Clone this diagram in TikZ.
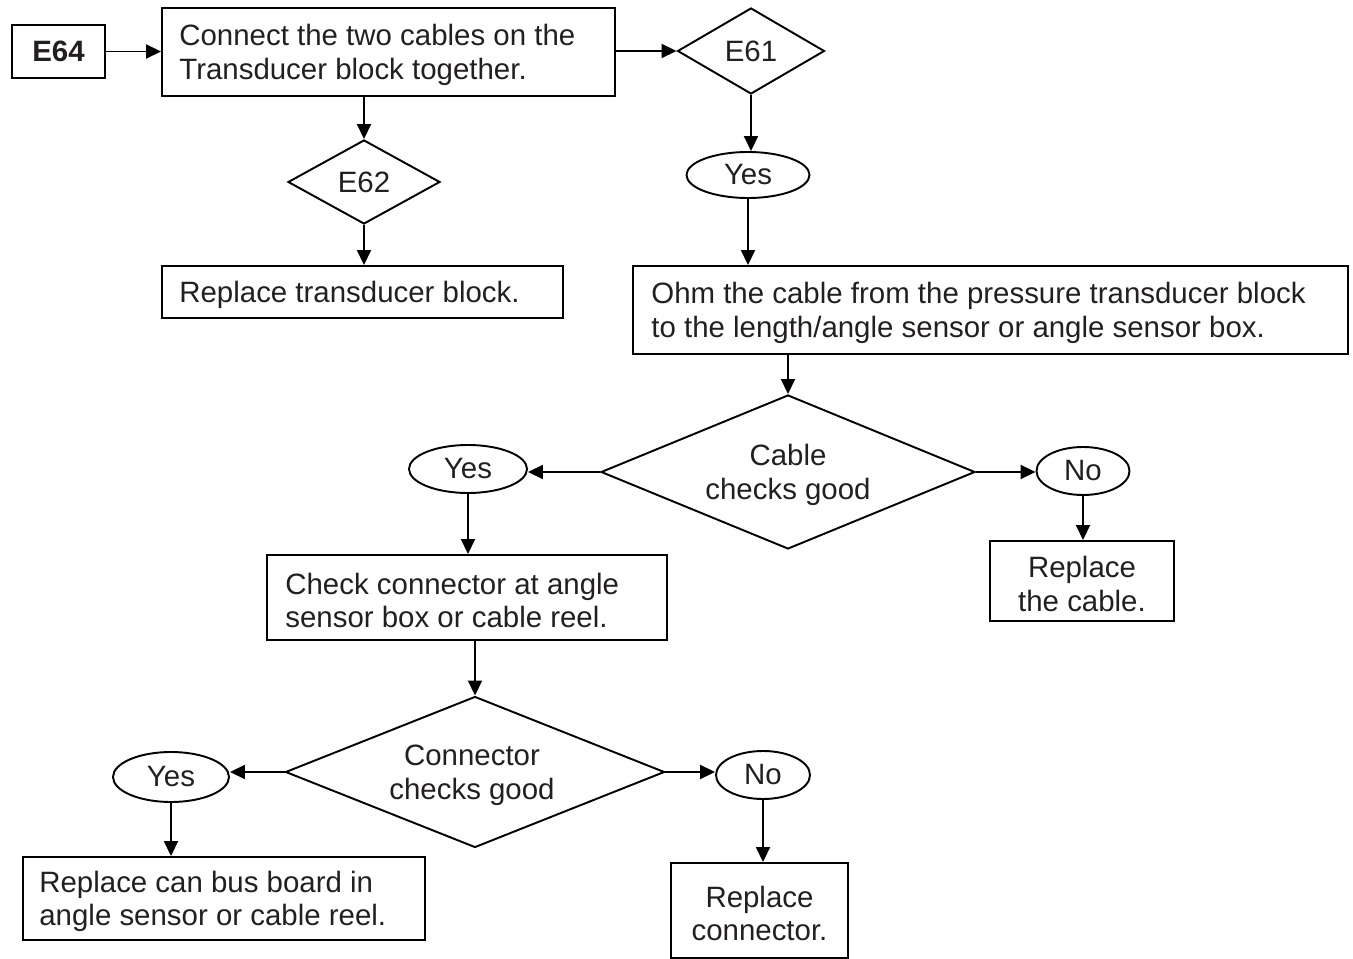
\documentclass[tikz,border=0pt]{standalone}
\usepackage{fontspec}
\setmainfont{Liberation Sans}
\usetikzlibrary{shapes.geometric,arrows.meta}
\definecolor{txt}{HTML}{231F20}
\newcommand\pxu{0.02cm}
\begin{document}
\begin{tikzpicture}[x=0.02cm,y=-0.02cm,
  every node/.style={text=txt,font=\fontsize{16.75}{19.2}\selectfont},
  bx/.style={draw=black,line width=1.1pt,rectangle,inner sep=0pt},
  dia/.style={draw=black,line width=1.1pt,diamond,inner sep=0pt,align=center},
  ell/.style={draw=black,line width=1.1pt,ellipse,inner sep=0pt},
  lt/.style={anchor=west,align=left,inner sep=0pt},
  ct/.style={align=center,inner sep=0pt},
  arr/.style={line width=1.1pt,-{Triangle[length=0.3cm,width=0.28cm]}}]
\useasboundingbox (0,0) rectangle (1353,959);
% boxes
\node[bx,line width=1.7pt,minimum width=93*\pxu,minimum height=53*\pxu,font=\fontsize{16.75}{19.2}\selectfont\bfseries] (e64) at (58.5,51.5) {E64};
\node[bx,minimum width=453*\pxu,minimum height=88*\pxu] (conn) at (388.5,52) {};
\node[lt] (connt) at ([xshift=18*\pxu,yshift=-3*\pxu]conn.west) {Connect the two cables on the\\Transducer block together.};
\node[dia,minimum width=147*\pxu,minimum height=86*\pxu] (e61) at (751,51) {E61};
\node[dia,minimum width=152*\pxu,minimum height=84*\pxu] (e62) at (364,182) {E62};
\node[bx,minimum width=401*\pxu,minimum height=52*\pxu] (rtb) at (362.5,292) {};
\node[lt] (rtbt) at ([xshift=18*\pxu,yshift=-3*\pxu]rtb.west) {Replace transducer block.};
\node[ell,minimum width=123*\pxu,minimum height=46*\pxu] (y1) at (748,175) {Yes};
\node[bx,minimum width=715*\pxu,minimum height=88*\pxu] (ohm) at (990.5,310) {};
\node[lt] (ohmt) at ([xshift=19*\pxu,yshift=-3*\pxu]ohm.west) {Ohm the cable from the pressure transducer block\\to the length/angle sensor or angle sensor box.};
\node[dia,minimum width=374*\pxu,minimum height=154*\pxu] (cab) at (788,472) {};
\node[ct] (cabt) at ([yshift=-3*\pxu]cab.center) {Cable\\checks good};
\node[ell,minimum width=118*\pxu,minimum height=48*\pxu] (y2) at (468,469) {Yes};
\node[ell,minimum width=93*\pxu,minimum height=48*\pxu] (n1) at (1083,471) {No};
\node[bx,minimum width=184*\pxu,minimum height=80*\pxu] (rcable) at (1082,581) {};
\node[ct] (rcablet) at ([yshift=-3*\pxu]rcable.center) {Replace\\the cable.};
\node[bx,minimum width=400*\pxu,minimum height=85*\pxu] (chk) at (467,597.5) {};
\node[lt] (chkt) at ([xshift=19*\pxu,yshift=-3*\pxu]chk.west) {Check connector at angle\\sensor box or cable reel.};
\node[dia,minimum width=379*\pxu,minimum height=151*\pxu] (cong) at (475,772) {};
\node[ct] (congt) at ([yshift=-3*\pxu,xshift=-3*\pxu]cong.center) {Connector\\checks good};
\node[ell,minimum width=116*\pxu,minimum height=50*\pxu] (y3) at (171,777) {Yes};
\node[ell,minimum width=94*\pxu,minimum height=48*\pxu] (n2) at (763,775) {No};
\node[bx,minimum width=402*\pxu,minimum height=83*\pxu] (rcan) at (224,898.5) {};
\node[lt] (rcant) at ([xshift=17*\pxu,yshift=-3*\pxu]rcan.west) {Replace can bus board in\\angle sensor or cable reel.};
\node[bx,minimum width=177*\pxu,minimum height=95*\pxu] (rconn) at (759.5,910.5) {};
\node[ct] (rconnt) at ([yshift=-3*\pxu]rconn.center) {Replace\\connector.};
% connectors
\draw[arr] (e64.east) -- (e64.east -| conn.west);
\draw[arr] (conn.east |- e61.west) -- (e61.west);
\draw[arr] (e62.north |- conn.south) -- (e62.north);
\draw[arr] (e62.south) -- (e62.south |- rtb.north);
\draw[arr] (e61.south) -- (e61.south |- y1.north);
\draw[arr] (y1.south) -- (y1.south |- ohm.north);
\draw[arr] (cab.north |- ohm.south) -- (cab.north);
\draw[arr] (cab.west) -- (cab.west -| y2.east);
\draw[arr] (cab.east) -- (cab.east -| n1.west);
\draw[arr] (n1.south) -- (n1.south |- rcable.north);
\draw[arr] (y2.south) -- (y2.south |- chk.north);
\draw[arr] (cong.north |- chk.south) -- (cong.north);
\draw[arr] (cong.west) -- (cong.west -| y3.east);
\draw[arr] (cong.east) -- (cong.east -| n2.west);
\draw[arr] (y3.south) -- (y3.south |- rcan.north);
\draw[arr] (n2.south) -- (n2.south |- rconn.north);
\end{tikzpicture}
\end{document}
